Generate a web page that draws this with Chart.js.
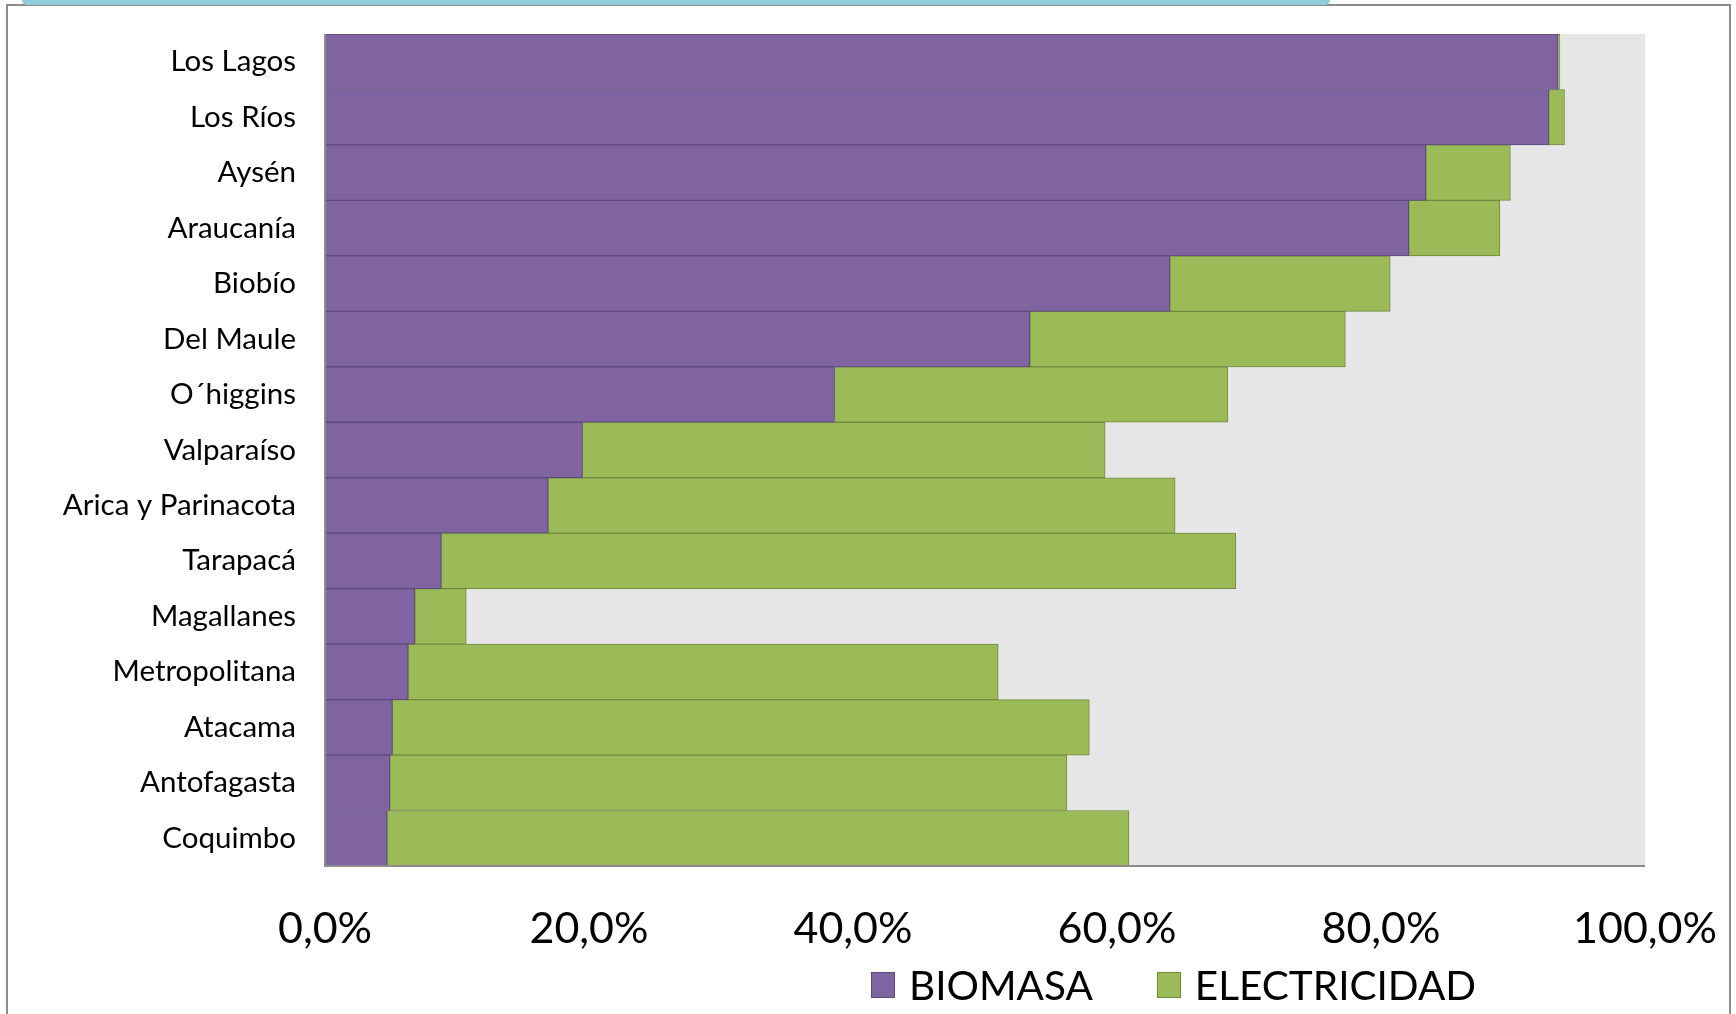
<!DOCTYPE html>
<html>
<head>
<meta charset="utf-8">
<script src="https://cdn.jsdelivr.net/npm/chart.js@4.4.1/dist/chart.umd.min.js"></script>
<style>
  html, body { margin: 0; padding: 0; background: #fff; }
  body { width: 1736px; height: 1014px; position: relative; overflow: hidden; font-family: Lato, "Open Sans", sans-serif; }
  #frame { position: absolute; left: 6px; top: 4px; width: 1725px; height: 1020px; border: 2px solid #8c8c8c; box-sizing: border-box; }
  #band { position: absolute; left: 22px; top: 0; width: 1308px; height: 5px; background: #92cddc; border-radius: 0 0 10px 10px; }
  #chart { position: absolute; left: 0; top: 0; }
  #legend { position: absolute; top: 960px; left: 871px; display: flex; align-items: center; font-size: 40.5px; color: #000; white-space: nowrap; }
  .item { display: flex; align-items: center; margin-right: 64px; }
  .swatch { width: 24px; height: 26px; margin-right: 14px; box-sizing: border-box; border: 1px solid; }
</style>
</head>
<body>
<div id="frame"></div>
<div id="band"></div>
<canvas id="chart" width="1736" height="1014"></canvas>
<div id="legend"></div>
<script>
// regiones, de arriba hacia abajo
const regiones = [
  "Los Lagos", "Los Ríos", "Aysén", "Araucanía", "Biobío", "Del Maule",
  "O´higgins", "Valparaíso", "Arica y Parinacota", "Tarapacá", "Magallanes",
  "Metropolitana", "Atacama", "Antofagasta", "Coquimbo"
];

// porcentaje de hogares (%)
const biomasa = [93.4, 92.7, 83.4, 82.1, 64.0, 53.4, 38.6, 19.5, 16.9, 8.8, 6.8, 6.3, 5.1, 4.9, 4.7];
const electricidad = [0.15, 1.2, 6.4, 6.9, 16.7, 23.9, 29.8, 39.6, 47.5, 60.2, 3.9, 44.7, 52.8, 51.3, 56.2];

const xTicks = [0, 20, 40, 60, 80, 100];

const series = [
  { label: "BIOMASA", data: biomasa, color: "#8064a2", border: "#5d4a7c" },
  { label: "ELECTRICIDAD", data: electricidad, color: "#9bbb59", border: "#71893f" }
];

// fondo gris del área de trazado
const plotBackground = {
  id: "plotBackground",
  beforeDatasetsDraw(chart) {
    const { ctx, chartArea: a } = chart;
    ctx.save();
    ctx.fillStyle = "#e6e6e6";
    ctx.fillRect(a.left, a.top, a.right - a.left, a.bottom - a.top);
    ctx.restore();
  }
};

// ejes dibujados encima de las barras
const axisLines = {
  id: "axisLines",
  afterDatasetsDraw(chart) {
    const { ctx, chartArea: a } = chart;
    ctx.save();
    ctx.strokeStyle = "#8c8c8c";
    ctx.lineWidth = 2;
    ctx.beginPath();
    ctx.moveTo(a.left, a.top);
    ctx.lineTo(a.left, a.bottom);
    ctx.lineTo(a.right, a.bottom);
    ctx.stroke();
    ctx.restore();
  }
};

// sin relleno automático: el área la fija layout.padding
function noPadding(scale) {
  scale.paddingTop = 0;
  scale.paddingBottom = 0;
  scale.paddingLeft = 0;
  scale.paddingRight = 0;
}

new Chart(document.getElementById("chart"), {
  type: "bar",
  data: {
    labels: regiones,
    datasets: series.map(s => ({
      label: s.label,
      data: s.data,
      backgroundColor: s.color,
      borderColor: s.border,
      borderWidth: 1,
      borderSkipped: false,
      barPercentage: 1,
      categoryPercentage: 1
    }))
  },
  options: {
    indexAxis: "y",
    responsive: false,
    animation: false,
    devicePixelRatio: 1,
    layout: { padding: { top: 34, right: 91, bottom: 0, left: 0 } },
    plugins: {
      legend: { display: false },
      tooltip: { enabled: false }
    },
    scales: {
      x: {
        stacked: true,
        min: 0,
        max: 100,
        grid: { display: false, drawTicks: false },
        border: { display: false },
        afterBuildTicks: scale => { scale.ticks = xTicks.map(v => ({ value: v })); },
        afterFit: scale => { scale.height = 148; noPadding(scale); },
        ticks: {
          padding: 37,
          color: "#000",
          maxRotation: 0,
          font: { family: "Lato", size: 43 },
          callback: v => v.toFixed(1).replace(".", ",") + "%"
        }
      },
      y: {
        stacked: true,
        grid: { display: false, drawTicks: false },
        border: { display: false },
        afterFit: scale => { scale.width = 325; noPadding(scale); },
        ticks: {
          padding: 29,
          color: "#000",
          autoSkip: false,
          font: { family: "Lato", size: 29.5 }
        }
      }
    }
  },
  plugins: [plotBackground, axisLines]
});

// leyenda
const legend = document.getElementById("legend");
series.forEach(s => {
  const item = document.createElement("div");
  item.className = "item";
  const sw = document.createElement("span");
  sw.className = "swatch";
  sw.style.background = s.color;
  sw.style.borderColor = s.border;
  const txt = document.createElement("span");
  txt.textContent = s.label;
  item.appendChild(sw);
  item.appendChild(txt);
  legend.appendChild(item);
});
</script>
</body>
</html>
